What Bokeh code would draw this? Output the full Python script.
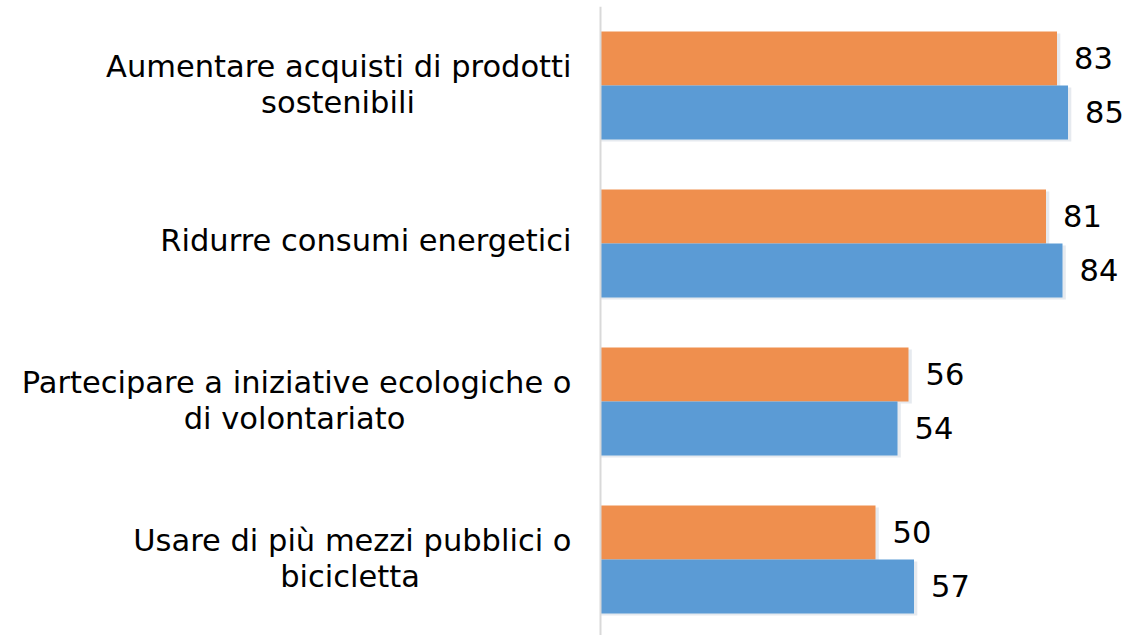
from bokeh.plotting import figure
from bokeh.models import ColumnDataSource, Range1d, Span
from bokeh.core.properties import value
from bokeh.embed import file_html
from bokeh.resources import INLINE

# ---- data ----
label_line1 = [
    "Aumentare acquisti di prodotti",
    "Ridurre consumi energetici",
    "Partecipare a iniziative ecologiche o",
    "Usare di più mezzi pubblici o",
]
label_line2 = ["sostenibili", "", "di volontariato", "bicicletta"]
serie_arancio = [83, 81, 56, 50]
serie_blu = [85, 84, 54, 57]

# ---- layout / style ----
W, H = 1127, 635
TOP = 6             # top border above the frame
PX = 5.5            # pixels per unit
AXIS_PX = 600       # page x of value 0
CAT_PX = 158        # pixels per category
FIRST_CENTER = 85   # page y of first category centre
BAR_PX = 54
FONT = "DejaVu Sans"
FS = "30.5px"
LINE1_W = [467, 0, 554, 443]   # approx. width of first label line (px), for centring line 2
LABEL_GAP = 29
ORANGE = "#EF8F4E"
BLUE = "#5B9BD5"

x_range = Range1d(-AXIS_PX / PX, (W - AXIS_PX) / PX)
y_range = Range1d((H - FIRST_CENTER) / CAT_PX, -(FIRST_CENTER - TOP) / CAT_PX)

p = figure(width=W, height=H, x_range=x_range, y_range=y_range,
           output_backend="svg", toolbar_location=None,
           x_axis_type=None, y_axis_type=None, min_border=0)
p.min_border_top = TOP
p.grid.visible = False
p.outline_line_color = None
p.background_fill_color = "white"

n = len(label_line1)
hb = BAR_PX / CAT_PX
idx = list(range(n))
y_or = [i - hb / 2 for i in idx]
y_bl = [i + hb / 2 for i in idx]

src = ColumnDataSource(dict(
    y_or=y_or, y_bl=y_bl, orange=serie_arancio, blue=serie_blu,
    orange_sh=[v + 0.6 for v in serie_arancio], blue_sh=[v + 0.6 for v in serie_blu],
    y_or_sh=[y + 0.012 for y in y_or], y_bl_sh=[y + 0.012 for y in y_bl],
    orange_t=[str(v) for v in serie_arancio], blue_t=[str(v) for v in serie_blu],
))

# soft shadows
for a in (0.12, 0.10):
    p.hbar(y="y_or_sh", left=0, right="orange_sh", height=hb, source=src,
           fill_color="#8e9bb3", fill_alpha=a, line_color=None)
    p.hbar(y="y_bl_sh", left=0, right="blue_sh", height=hb, source=src,
           fill_color="#8e9bb3", fill_alpha=a, line_color=None)

p.hbar(y="y_or", left=0, right="orange", height=hb, source=src,
       fill_color=ORANGE, line_color=None)
p.hbar(y="y_bl", left=0, right="blue", height=hb, source=src,
       fill_color=BLUE, line_color=None)

p.add_layout(Span(location=0, dimension="height", line_color="#d9d9d9", line_width=2))

# value labels
for col, ycol in (("orange", "y_or"), ("blue", "y_bl")):
    p.text(x=col, y=ycol, text=col + "_t", source=src, x_offset=17, y_offset=-1,
           text_align="left", text_baseline="alphabetic",
           text_font=value(FONT), text_font_size=FS, text_color="#000000")

# category labels: line 1 right aligned, line 2 centred under line 1
lab = ColumnDataSource(dict(
    x=[0] * n + [0] * n,
    y=idx + idx,
    text=label_line1 + label_line2,
    align=["right"] * n + ["center"] * n,
    xo=[-LABEL_GAP] * n + [-LABEL_GAP - w / 2 for w in LINE1_W],
    yo=[(-19 if label_line2[i] else -3) for i in idx] + [17] * n,
))
p.text(x="x", y="y", text="text", source=lab, x_offset="xo", y_offset="yo",
       text_align="align", text_baseline="alphabetic",
       text_font=value(FONT), text_font_size=FS, text_color="#000000")

open("out.html", "w").write(file_html(p, INLINE))
